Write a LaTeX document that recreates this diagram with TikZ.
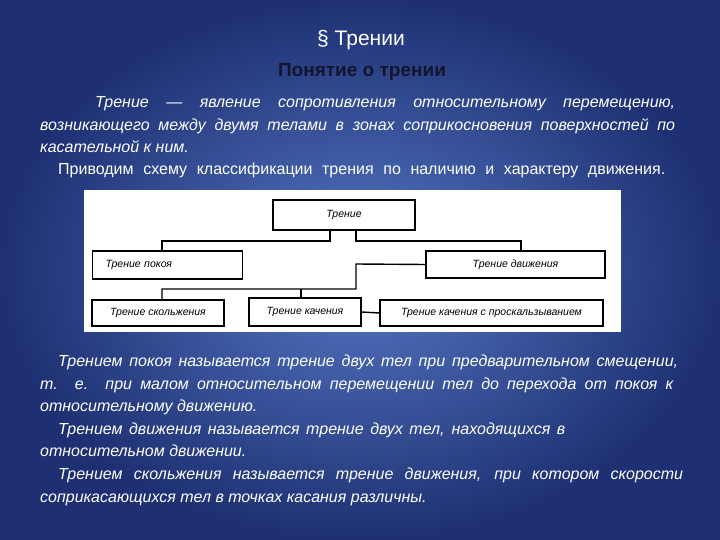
\documentclass[tikz,border=0pt]{standalone}
\usepackage{fontspec}
\setmainfont{Liberation Sans}
\begin{document}
\begin{tikzpicture}[x=1pt,y=-1pt,
  box/.style={draw=black,line width=1.1pt,fill=white,inner sep=0pt,font=\itshape\fontsize{10.5}{12}\selectfont},
  ln/.style={line width=1.4pt},
  txt/.style={anchor=base west,inner sep=0pt,text=white,font=\itshape\fontsize{16}{18}\selectfont}]
\useasboundingbox (0,0) rectangle (720,540);
\shade[inner color={rgb,255:red,85;green,120;blue,195},outer color={rgb,255:red,30;green,48;blue,115}] (0,0) rectangle (720,540);
\node[text=white,font=\fontsize{21}{26}\selectfont] (t) at (361,40) {§ Трении};
\node[text={rgb,255:red,20;green,20;blue,45},font=\bfseries\fontsize{19}{22}\selectfont] (st) at (362,72) {Понятие о трении};
\node[txt] (l1) at (95,108) {\makebox[580pt][s]{Трение — явление сопротивления относительному перемещению,}};
\node[txt] (l2) at (40,131) {\makebox[635pt][s]{возникающего между двумя телами в зонах соприкосновения поверхностей по}};
\node[txt] (l3) at (40,153) {касательной к ним.};
\node[txt,font=\fontsize{16}{18}\selectfont] (l4) at (58,175) {\makebox[607pt][s]{Приводим схему классификации трения по наличию и характеру движения.}};
\fill[white] (84,190) rectangle (621,332);
\node[box,minimum width=142pt,minimum height=30pt] (a) at (344,215) {Трение};
\node[box,minimum width=150pt,minimum height=28pt,anchor=west,text width=140pt] (b) at (92,265) {\hspace*{8pt}Трение покоя};
\node[box,minimum width=179pt,minimum height=27pt] (c) at (515.5,264.5) {Трение движения};
\node[box,minimum width=132pt,minimum height=26pt] (d) at (158,313) {Трение скольжения};
\node[box,minimum width=112pt,minimum height=28pt] (e) at (305,312) {Трение качения};
\node[box,minimum width=223pt,minimum height=26pt] (f) at (491.5,313) {Трение качения с проскальзыванием};
\draw[ln] (a.south -| 330,0) |- (162,241) -- (b.north -| 162,0);
\draw[ln] (a.south -| 356,0) |- (521,241) -- (c.north -| 521,0);
\draw[ln] (c.west) -- (356,264) |- (162,289) -- (d.north -| 162,0);
\draw[ln] (301,289) -- (e.north -| 301,0);
\draw[ln] (e.east) -- (f.west);
\node[txt] (m1) at (58,366) {\makebox[620pt][s]{Трением покоя называется трение двух тел при предварительном смещении,}};
\node[txt] (m2) at (40,389) {\makebox[633pt][s]{т. е. при малом относительном перемещении тел до перехода от покоя к}};
\node[txt] (m3) at (40,411) {относительному движению.};
\node[txt] (m4) at (58,434) {\makebox[507pt][s]{Трением движения называется трение двух тел, находящихся в}};
\node[txt] (m5) at (40,456) {относительном движении.};
\node[txt] (m6) at (58,479) {\makebox[625pt][s]{Трением скольжения называется трение движения, при котором скорости}};
\node[txt] (m7) at (40,502) {соприкасающихся тел в точках касания различны.};
\end{tikzpicture}
\end{document}
